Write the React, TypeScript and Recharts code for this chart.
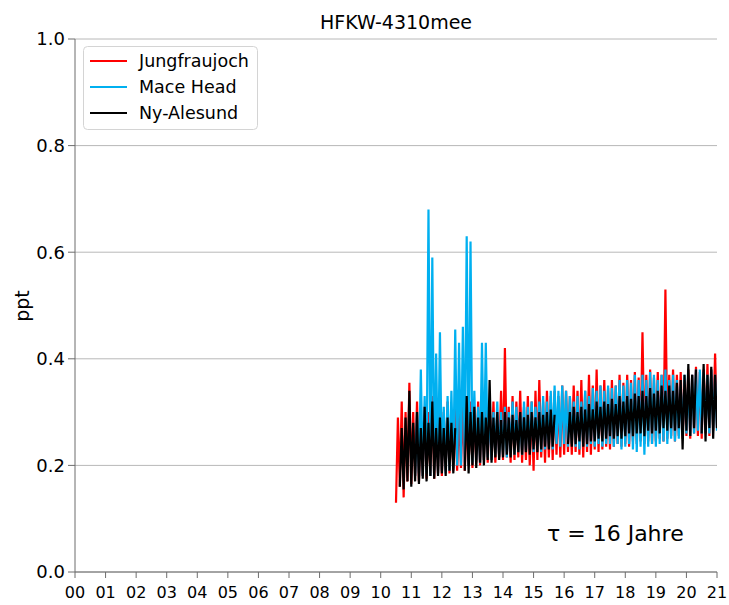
import React from 'react';
import { LineChart, Line, XAxis, YAxis, CartesianGrid } from 'recharts';

// sampled every 1/8 year from 2010.5; each step holds the low and the high reading
const jfjLo = [
  0.13, 0.16, 0.14, 0.17, 0.165, 0.18, 0.17, 0.18, 0.175, 0.18, 0.175, 0.185,
  0.18, 0.19, 0.185, 0.19, 0.19, 0.195, 0.19, 0.2, 0.195, 0.205, 0.2, 0.21,
  0.205, 0.21, 0.205, 0.215, 0.21, 0.215, 0.205, 0.21, 0.215, 0.205, 0.21, 0.2,
  0.19, 0.21, 0.215, 0.205, 0.215, 0.21, 0.22, 0.215, 0.22, 0.225, 0.22, 0.225,
  0.22, 0.215, 0.225, 0.22, 0.23, 0.225, 0.23, 0.235, 0.23, 0.235, 0.24, 0.235,
  0.24, 0.235, 0.245, 0.24, 0.245, 0.24, 0.245, 0.24, 0.245, 0.25, 0.245, 0.25,
  0.255, 0.245, 0.255, 0.25, 0.255, 0.25, 0.26, 0.255, 0.25, 0.26, 0.255, 0.265, 0.27,
];
const jfjHi = [
  0.29, 0.32, 0.3, 0.355, 0.3, 0.32, 0.29, 0.31, 0.3, 0.33, 0.29, 0.31,
  0.3, 0.32, 0.3, 0.31, 0.3, 0.31, 0.3, 0.32, 0.3, 0.32, 0.31, 0.33,
  0.31, 0.32, 0.3, 0.34, 0.42, 0.31, 0.33, 0.32, 0.34, 0.31, 0.33, 0.32,
  0.34, 0.36, 0.32, 0.34, 0.33, 0.34, 0.33, 0.35, 0.34, 0.33, 0.35, 0.34,
  0.36, 0.34, 0.37, 0.35, 0.38, 0.35, 0.36, 0.345, 0.36, 0.35, 0.37, 0.355,
  0.37, 0.36, 0.375, 0.365, 0.45, 0.37, 0.38, 0.365, 0.375, 0.37, 0.53, 0.37,
  0.38, 0.37, 0.375, 0.36, 0.38, 0.37, 0.385, 0.375, 0.38, 0.39, 0.38, 0.41, 0.4,
];
const mhdLo = [
  null, null, null, null, null, 0.18, 0.185, 0.18, 0.185, 0.18, 0.19, 0.185,
  0.19, 0.185, 0.19, 0.195, 0.2, 0.2, 0.205, 0.2, 0.205, 0.21, 0.205, 0.21,
  0.215, 0.21, 0.22, 0.215, 0.22, 0.215, 0.225, 0.22, 0.225, 0.22, 0.225, 0.23,
  0.225, 0.23, 0.225, 0.23, 0.235, 0.23, 0.24, 0.235, 0.24, 0.235, 0.24, 0.235,
  0.23, 0.24, 0.235, 0.24, 0.235, 0.24, 0.235, 0.24, 0.24, 0.235, 0.24, 0.23,
  0.235, 0.24, 0.23, 0.225, 0.235, 0.22, 0.235, 0.24, 0.235, 0.24, 0.245, 0.24,
  0.25, 0.245, 0.25, 0.255, 0.26, 0.255, 0.26, 0.265, 0.26, 0.265, 0.26, 0.27, 0.265,
];
const mhdHi = [
  null, null, null, null, null, 0.3, 0.38, 0.33, 0.68, 0.59, 0.41, 0.45,
  0.31, 0.33, 0.34, 0.455, 0.43, 0.46, 0.63, 0.62, 0.34, 0.31, 0.43, 0.43,
  0.31, 0.3, 0.32, 0.3, 0.31, 0.3, 0.32, 0.31, 0.3, 0.32, 0.31, 0.32,
  0.31, 0.32, 0.33, 0.32, 0.34, 0.35, 0.34, 0.35, 0.34, 0.33, 0.32, 0.33,
  0.32, 0.34, 0.33, 0.345, 0.34, 0.35, 0.34, 0.35, 0.345, 0.35, 0.36, 0.35,
  0.36, 0.355, 0.37, 0.36, 0.37, 0.36, 0.375, 0.37, 0.36, 0.37, 0.38, 0.36,
  0.37, 0.36, 0.35, 0.37, 0.36, 0.37, 0.38, 0.38, 0.375, 0.37, 0.38, 0.37, 0.38,
];
const zepLo = [
  null, 0.16, 0.155, 0.17, 0.16, 0.17, 0.165, 0.175, 0.17, 0.18, 0.175, 0.18,
  0.185, 0.18, 0.19, 0.185, null, null, 0.19, 0.185, 0.2, 0.195, 0.205, 0.2,
  0.21, 0.205, 0.215, 0.21, 0.215, 0.22, 0.215, 0.22, 0.225, 0.22, 0.225, 0.22,
  0.23, 0.225, 0.23, 0.235, 0.23, 0.235, null, null, null, 0.24, 0.235, 0.24,
  0.245, 0.235, 0.24, 0.245, 0.245, 0.25, 0.245, 0.25, 0.255, 0.25, 0.255, 0.25,
  0.255, 0.26, 0.255, 0.26, 0.26, 0.255, 0.265, 0.26, 0.265, 0.26, 0.27, 0.265,
  0.27, 0.265, 0.27, 0.23, 0.265, 0.255, 0.27, null, 0.26, 0.245, 0.27, 0.25, 0.27,
];
const zepHi = [
  null, 0.27, 0.29, 0.34, 0.28, 0.3, 0.27, 0.31, 0.28, 0.32, 0.27, 0.29,
  0.27, 0.29, 0.28, 0.27, null, null, 0.33, 0.3, 0.31, 0.29, 0.3, 0.29,
  0.36, 0.29, 0.3, 0.285, 0.3, 0.29, 0.295, 0.285, 0.3, 0.29, 0.295, 0.3,
  0.29, 0.3, 0.295, 0.3, 0.305, 0.295, null, null, null, 0.3, 0.31, 0.3,
  0.31, 0.305, 0.315, 0.305, 0.32, 0.31, 0.32, 0.315, 0.325, 0.315, 0.33, 0.32,
  0.33, 0.325, 0.335, 0.33, 0.34, 0.33, 0.345, 0.335, 0.34, 0.35, 0.34, 0.35,
  0.34, 0.355, 0.36, 0.37, 0.39, 0.37, 0.38, null, 0.39, 0.37, 0.385, 0.37, 0.38,
];

const startYear = 2010.5;
const stepYears = 0.125;

const yearTicks = [
  2000, 2001, 2002, 2003, 2004, 2005, 2006, 2007, 2008, 2009, 2010,
  2011, 2012, 2013, 2014, 2015, 2016, 2017, 2018, 2019, 2020, 2021,
];
const yearLabels = [
  '00', '01', '02', '03', '04', '05', '06', '07', '08', '09', '10',
  '11', '12', '13', '14', '15', '16', '17', '18', '19', '20', '21',
];
const pptTicks = [0, 0.2, 0.4, 0.6, 0.8, 1.0];

const series = [
  { key: 'jfj', name: 'Jungfraujoch', color: '#ff0000' },
  { key: 'mhd', name: 'Mace Head', color: '#00b0f0' },
  { key: 'zep', name: 'Ny-Alesund', color: '#000000' },
];

// low then high per step, so the line zigzags through each band
const rows: any[] = [];
jfjLo.forEach((_, i) => {
  const t = startYear + i * stepYears;
  rows.push({ x: t, jfj: jfjLo[i], mhd: mhdLo[i], zep: zepLo[i] });
  rows.push({ x: t + stepYears / 2, jfj: jfjHi[i], mhd: mhdHi[i], zep: zepHi[i] });
});

const font = '"DejaVu Sans", sans-serif';
const axisColor = '#6d6d6d';

export default function App() {
  return (
    <div style={{ position: 'absolute', left: 0, top: 0, width: 729, height: 605, fontFamily: font }}>
      <LineChart width={729} height={605} data={rows} margin={{ top: 39, right: 12, left: 0, bottom: 0 }}>
        <CartesianGrid vertical={false} stroke="#b8b8b8" strokeWidth={1} />
        <XAxis
          type="number"
          dataKey="x"
          domain={[2000, 2021]}
          allowDataOverflow
          ticks={yearTicks}
          tickFormatter={(v: number) => yearLabels[yearTicks.indexOf(v)]}
          interval={0}
          height={33}
          stroke={axisColor}
          tickSize={6}
          tickMargin={9}
          tick={{ fill: '#000', fontSize: 16, fontFamily: font }}
        />
        <YAxis
          type="number"
          domain={[0, 1]}
          ticks={pptTicks}
          tickFormatter={(v: number) => v.toFixed(1)}
          width={75}
          stroke={axisColor}
          tickSize={7}
          tickMargin={3}
          tick={{ fill: '#000', fontSize: 18, fontFamily: font }}
        />
        {series.map((s) => (
          <Line
            key={s.key}
            type="linear"
            dataKey={s.key}
            name={s.name}
            stroke={s.color}
            strokeWidth={2.2}
            strokeLinejoin="miter"
            strokeMiterlimit={2}
            dot={false}
            activeDot={false}
            isAnimationActive={false}
          />
        ))}
      </LineChart>
      <svg
        width={729}
        height={605}
        style={{ position: 'absolute', left: 0, top: 0, pointerEvents: 'none' }}
        fontFamily={font}
      >
        <text x={396} y={29} textAnchor="middle" fontSize={19} fill="#000">
          HFKW-4310mee
        </text>
        <text x={29} y={306} textAnchor="middle" fontSize={19} fill="#000" transform="rotate(-90 29 306)">
          ppt
        </text>
        <text x={547} y={541} fontSize={22} fill="#000">
          τ = 16 Jahre
        </text>
        <rect x={83.5} y={46.5} width={174} height={83} rx={4} fill="rgba(255,255,255,0.8)" stroke="#d4d4d4" />
        {series.map((s, i) => (
          <g key={s.key}>
            <line x1={90} x2={127} y1={61 + i * 26} y2={61 + i * 26} stroke={s.color} strokeWidth={2} />
            <text x={139} y={67 + i * 26} fontSize={17.5} fill="#000">
              {s.name}
            </text>
          </g>
        ))}
      </svg>
    </div>
  );
}
